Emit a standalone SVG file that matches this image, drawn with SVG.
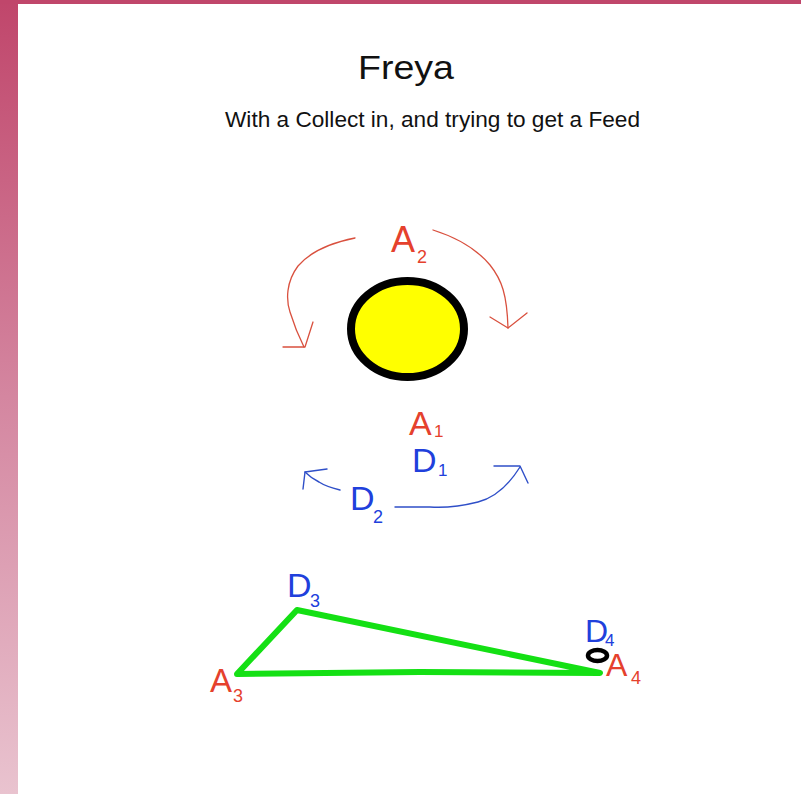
<svg xmlns="http://www.w3.org/2000/svg" width="801" height="794" viewBox="0 0 801 794">
<defs>
<linearGradient id="side" x1="0" y1="0" x2="0" y2="1">
<stop offset="0" stop-color="#c0466b"/>
<stop offset="0.5" stop-color="#d486a0"/>
<stop offset="1" stop-color="#e9c3cf"/>
</linearGradient>
<style>
.t{font-family:"Liberation Sans",Arial,sans-serif;fill:#111}
.lbl{font-family:"Liberation Sans",Arial,sans-serif}
.r{fill:#e5412d}
.b{fill:#2040dc}
.ra{fill:none;stroke:#d9503e;stroke-width:1.3;stroke-linecap:round;stroke-linejoin:round}
.ba{fill:none;stroke:#2f4fc8;stroke-width:1.4;stroke-linecap:round;stroke-linejoin:round}
.g{fill:none;stroke:#14e014;stroke-width:6;stroke-linecap:round;stroke-linejoin:round}
</style>
</defs>
<rect width="801" height="794" fill="#ffffff"/>
<rect x="0" y="0" width="18" height="794" fill="url(#side)"/>
<rect x="0" y="0" width="801" height="4" fill="#c0466b"/>

<g id="title"><text class="t" x="358" y="79" font-size="33" textLength="96" lengthAdjust="spacingAndGlyphs">Freya</text></g>
<g id="subtitle"><text class="t" x="225" y="127" font-size="22.5" textLength="415" lengthAdjust="spacingAndGlyphs">With a Collect in, and trying to get a Feed</text></g>

<g id="sun"><ellipse cx="407.5" cy="329" rx="56.5" ry="48" fill="#ffff00" stroke="#000" stroke-width="8"/></g>

<g id="label-A2" class="lbl r"><text x="391" y="252" font-size="36">A</text><text x="417" y="263" font-size="18">2</text></g>
<g id="label-A1" class="lbl r"><text x="409" y="435" font-size="34">A</text><text x="434" y="437" font-size="17">1</text></g>
<g id="label-D1" class="lbl b"><text x="412" y="472" font-size="34">D</text><text x="438" y="476" font-size="17">1</text></g>
<g id="label-D2" class="lbl b"><text x="350" y="510" font-size="34">D</text><text x="373" y="523" font-size="18">2</text></g>

<g id="triangle"><path class="g" d="M237,674 L297,610 L600,673 L420,672 L237,674 Z"/></g>
<g id="ring"><ellipse cx="597.5" cy="655.5" rx="9.5" ry="5.5" fill="none" stroke="#000" stroke-width="4.5"/></g>

<g id="label-D3" class="lbl b"><text x="287" y="597" font-size="34">D</text><text x="310" y="607" font-size="18">3</text></g>
<g id="label-D4" class="lbl b"><text x="585" y="642" font-size="32">D</text><text x="605" y="646" font-size="17">4</text></g>
<g id="label-A4" class="lbl r"><text x="606" y="676" font-size="32">A</text><text x="631" y="684" font-size="18">4</text></g>
<g id="label-A3" class="lbl r"><text x="210" y="692" font-size="33">A</text><text x="233" y="702" font-size="18">3</text></g>

<g id="connectors">
<path class="ra" d="M355,238 C330,243 310,252 298,266 C286,282 286,300 290,312 C294,325 299,337 304,347"/>
<path class="ra" d="M283,347 L305,347 L313,322"/>
<path class="ra" d="M433,230 C455,237 475,247 490,265 C502,280 507,295 508,328"/>
<path class="ra" d="M490,317 L508,328 L527,313"/>
<path class="ba" d="M340,490 C332,488 325,486 319,482 C313,479 308,475 305,472"/>
<path class="ba" d="M303,489 L305,472 L327,469"/>
<path class="ba" d="M395,507 L430,507 C445,508 462,506 478,502 C497,497 510,483 520,467"/>
<path class="ba" d="M494,466 L520,466 L528,483"/>
</g>
</svg>
